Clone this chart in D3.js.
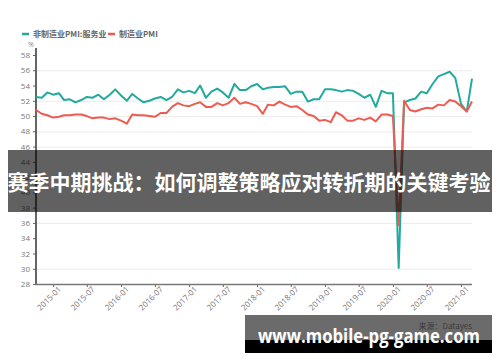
<!DOCTYPE html>
<html><head><meta charset="utf-8">
<script src="https://cdn.jsdelivr.net/npm/d3@7"></script>
<style>
html,body{margin:0;padding:0;background:#fff;}
svg{display:block;}
</style></head>
<body><svg id="c" width="500" height="362"></svg>
<script>
const startMonth = "2014-10";
const servicesPMI = [52.5,52.4,53.1,52.8,53.0,52.1,52.2,51.8,52.1,52.5,52.4,52.8,52.2,52.8,53.5,52.7,52.0,52.9,52.3,51.8,52.0,52.3,52.5,52.1,52.5,53.5,53.1,53.3,53.0,54.0,52.4,53.2,53.6,53.1,52.4,54.2,53.4,53.4,53.9,54.2,53.5,53.7,53.8,53.8,53.9,52.9,53.2,53.2,51.9,52.2,52.2,53.5,53.5,53.4,53.2,53.4,53.3,52.9,52.4,52.8,51.2,53.3,53.0,53.0,30.1,51.8,52.1,52.3,53.2,53.0,54.2,55.2,55.5,55.8,55.0,51.6,50.6,54.9];
const manufacturingPMI = [50.8,50.3,50.1,49.8,49.9,50.1,50.1,50.2,50.2,50.0,49.7,49.8,49.8,49.6,49.7,49.4,49.0,50.2,50.1,50.1,50.0,49.9,50.4,50.4,51.2,51.7,51.4,51.3,51.6,51.8,51.2,51.2,51.7,51.4,51.7,52.4,51.6,51.8,51.6,51.3,50.3,51.5,51.4,51.9,51.5,51.2,51.3,50.8,50.2,50.0,49.4,49.5,49.2,50.5,50.1,49.4,49.4,49.7,49.5,49.8,49.3,50.2,50.2,50.0,35.7,52.0,50.8,50.6,50.9,51.1,51.0,51.5,51.4,52.1,51.9,51.3,50.6,51.9];
const xTickLabels = ["2015-01","2015-07","2016-01","2016-07","2017-01","2017-07","2018-01","2018-07","2019-01","2019-07","2020-01","2020-07","2021-01"];
const yTicks = [28,30,32,34,36,38,40,42,44,46,48,50,52,54,56,58];
const gridValues = [30,36,46,48,50,52,56];
const seriesNames = ["非制造业PMI:服务业","制造业PMI"];
const seriesColors = ["#22aa9e","#ee5b50"];
const title = "赛季中期挑战：如何调整策略应对转折期的关键考验";
const watermark = "www.mobile-pg-game.com";
const source = "来源：Datayes";

const parse = d3.timeParse("%Y-%m");
const fmt = d3.timeFormat("%Y-%m");
const t0 = parse(startMonth);
const months = servicesPMI.map((_, i) => d3.timeMonth.offset(t0, i));

const svg = d3.select("#c");
const x = d3.scaleTime().domain([months[0], months[months.length-1]]).range([36, 472]);
const y = d3.scaleLinear().domain([28, 58]).range([284, 55]);

// grid
svg.append("g").selectAll("line").data(gridValues).join("line")
  .attr("x1", 37).attr("x2", 472)
  .attr("y1", d => y(d)+0.5).attr("y2", d => y(d)+0.5)
  .attr("stroke", "#ececec").attr("stroke-width", 1);

// y axis
const yAxis = svg.append("g").attr("transform", "translate(36,0)")
  .call(d3.axisLeft(y).tickValues(yTicks).tickSize(3).tickPadding(3));
yAxis.select(".domain").remove();
yAxis.selectAll(".tick line").attr("stroke", "#666");
yAxis.selectAll(".tick text").attr("fill", "#777").style("font", "8px 'Open Sans', sans-serif");
svg.append("line").attr("x1", 36).attr("x2", 36).attr("y1", 48).attr("y2", 285)
  .attr("stroke", "#555").attr("stroke-width", 1.8);

// x axis
const xAxis = svg.append("g").attr("transform", "translate(0,284)")
  .call(d3.axisBottom(x).tickValues(xTickLabels.map(parse)).tickFormat(fmt).tickSize(3).tickPadding(2));
xAxis.select(".domain").remove();
xAxis.selectAll(".tick line").attr("stroke", "#666");
xAxis.selectAll(".tick text").attr("fill", "#777").style("font", "8px 'Open Sans', sans-serif")
  .attr("text-anchor", "end").attr("dy", "0.6em").attr("dx", "0.2em")
  .attr("transform", "rotate(-45)");
svg.append("line").attr("x1", 35).attr("x2", 472).attr("y1", 284.5).attr("y2", 284.5)
  .attr("stroke", "#777").attr("stroke-width", 1.6);

svg.append("text").attr("x", 31).attr("y", 47).attr("text-anchor", "middle")
  .attr("fill", "#888").style("font", "7px 'Open Sans', sans-serif").text("%");

// lines
const line = d3.line().x((d, i) => x(months[i])).y(d => y(d));
[servicesPMI, manufacturingPMI].forEach((s, k) => {
  svg.append("path").datum(s).attr("d", line).attr("fill", "none")
    .attr("stroke", seriesColors[k]).attr("stroke-width", 2).attr("stroke-linejoin", "round");
});

// legend
const legendX = [22, 108];
seriesNames.forEach((n, k) => {
  svg.append("line").attr("x1", legendX[k]).attr("x2", legendX[k]+7).attr("y1", 34).attr("y2", 34)
    .attr("stroke", seriesColors[k]).attr("stroke-width", 2.5);
  svg.append("text").attr("x", legendX[k]+11).attr("y", 37).attr("fill", "#666")
    .style("font", "bold 8px 'Noto Sans CJK SC', sans-serif").text(n);
});

// title overlay
svg.append("rect").attr("x", 8).attr("y", 150).attr("width", 484).attr("height", 62)
  .attr("fill", "rgba(0,0,0,0.62)");
svg.append("text").attr("x", 249).attr("y", 190).attr("text-anchor", "middle")
  .attr("fill", "#fff").style("font", "bold 21px 'Noto Sans CJK SC', sans-serif").text(title);

// bottom watermark
svg.append("rect").attr("x", 245).attr("y", 315).attr("width", 247).attr("height", 26)
  .attr("fill", "rgba(0,0,0,0.58)");
svg.append("rect").attr("x", 245).attr("y", 340).attr("width", 247).attr("height", 13)
  .attr("fill", "#000");
svg.append("text").attr("x", 472).attr("y", 329).attr("text-anchor", "end")
  .attr("fill", "#3a3a3a").style("font", "8px 'Noto Sans CJK SC', sans-serif").text(source);
svg.append("text").attr("x", 258).attr("y", 343).attr("textLength", 222).attr("lengthAdjust", "spacingAndGlyphs")
  .attr("fill", "#fff").style("font", "bold 20px 'Open Sans', sans-serif").text(watermark);
</script></body></html>
